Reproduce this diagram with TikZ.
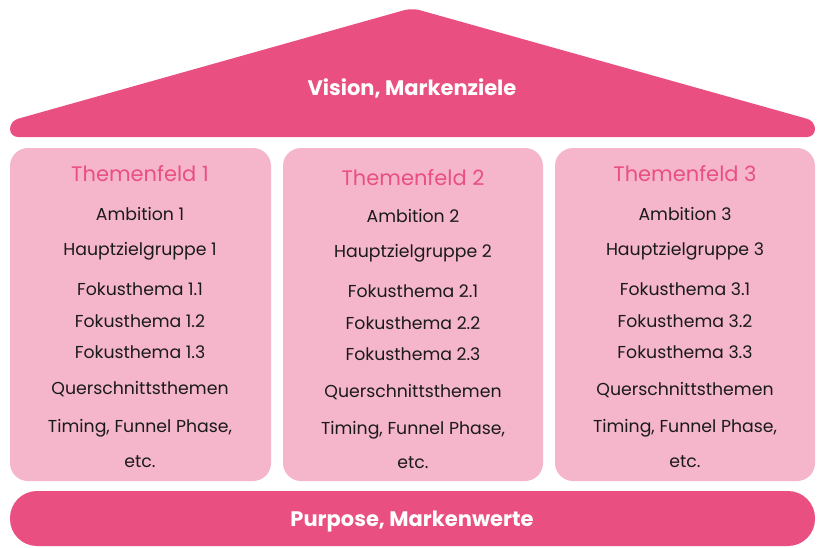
\documentclass[tikz,border=0pt]{standalone}
\usepackage{fontspec}
\setmainfont{Poppins}
\definecolor{hot}{HTML}{E94F80}
\definecolor{soft}{HTML}{F5B6CB}
\definecolor{ink}{HTML}{1A1A1A}
\begin{document}
\begin{tikzpicture}[x=1pt,y=-1pt,
  col/.style={fill=soft, rounded corners=18pt},
  head/.style={text=hot, font=\fontsize{21}{24}\selectfont, yshift=-1.5pt},
  item/.style={text=ink, font=\fontsize{17.3}{20}\selectfont, yshift=-1.5pt},
  bold/.style={text=white, font=\fontsize{21}{24}\selectfont\bfseries, yshift=-2pt}]
\useasboundingbox (0,0) rectangle (826,547);
\fill[hot, rounded corners=8pt] (10,137) -- (10,121) -- (412,8) -- (815,121) -- (815,137) -- cycle;
\node[bold] (vision) at (412,86) {Vision, Markenziele};
\fill[col] (10,148) rectangle (271,481);
\fill[col] (283,148) rectangle (543,481);
\fill[col] (555,148) rectangle (815,481);
\fill[hot, rounded corners=27pt] (10,491) rectangle (815,546);
\node[bold] (purpose) at (412,520) {Purpose, Markenwerte};
% column 1
\node[head] (t1) at (140,172) {Themenfeld 1};
\node[item] (a1) at (140,212) {Ambition 1};
\node[item] (h1) at (140,250) {Hauptzielgruppe 1};
\node[item] (f11) at (140,288) {Fokusthema 1.1};
\node[item] (f12) at (140,320) {Fokusthema 1.2};
\node[item] (f13) at (140,351) {Fokusthema 1.3};
\node[item] (q1) at (140,388) {Querschnittsthemen};
\node[item] (ti1) at (140,427) {Timing, Funnel Phase,};
\node[item] (e1) at (140,460) {etc.};
% column 2
\node[head] (t2) at (413,176) {Themenfeld 2};
\node[item] (a2) at (413,214) {Ambition 2};
\node[item] (h2) at (413,252) {Hauptzielgruppe 2};
\node[item] (f21) at (413,290) {Fokusthema 2.1};
\node[item] (f22) at (413,322) {Fokusthema 2.2};
\node[item] (f23) at (413,353) {Fokusthema 2.3};
\node[item] (q2) at (413,391) {Querschnittsthemen};
\node[item] (ti2) at (413,429) {Timing, Funnel Phase,};
\node[item] (e2) at (413,461) {etc.};
% column 3
\node[head] (t3) at (685,172) {Themenfeld 3};
\node[item] (a3) at (685,212) {Ambition 3};
\node[item] (h3) at (685,250) {Hauptzielgruppe 3};
\node[item] (f31) at (685,288) {Fokusthema 3.1};
\node[item] (f32) at (685,320) {Fokusthema 3.2};
\node[item] (f33) at (685,351) {Fokusthema 3.3};
\node[item] (q3) at (685,389) {Querschnittsthemen};
\node[item] (ti3) at (685,427) {Timing, Funnel Phase,};
\node[item] (e3) at (685,460) {etc.};
\end{tikzpicture}
\end{document}
